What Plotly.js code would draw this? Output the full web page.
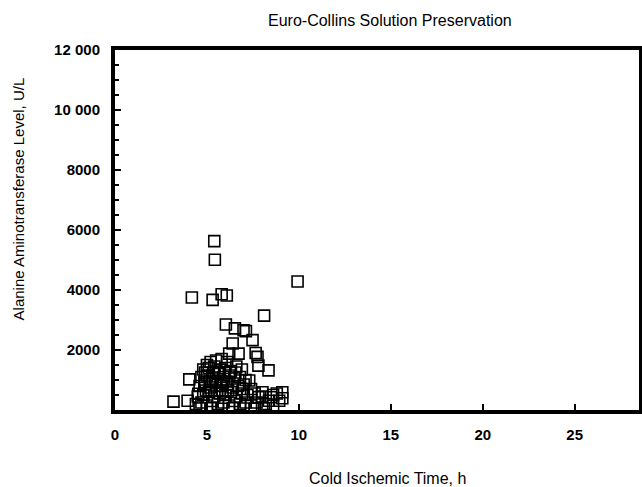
<!DOCTYPE html>
<html><head><meta charset="utf-8">
<script src="https://cdn.plot.ly/plotly-3.0.1.min.js"></script>
<style>html,body{margin:0;padding:0;background:#fff}</style>
</head><body>
<div id="chart" style="width:642px;height:487px"></div>
<script>
const chartTitle = "Euro-Collins Solution Preservation";
const xTitle = "Cold Ischemic Time, h";
const yTitle = "Alanine Aminotransferase Level, U/L";
const xTickVals = [0, 5, 10, 15, 20, 25];
const yTickVals = [2000, 4000, 6000, 8000, 10000, 12000];
const yTickText = ["2000", "4000", "6000", "8000", "10 000", "12 000"];

// Cold ischemic time (h)
const coldTime = [
  5.40, 5.43, 9.93, 4.18, 5.31, 5.80, 6.08, 8.11, 6.03, 6.52, 6.99, 7.12, 7.48, 6.40,
  7.75, 7.65, 6.72, 6.21, 8.35, 7.80, 7.30, 8.02, 8.48, 8.37, 9.10, 9.10, 8.93, 7.80, 6.94,
  4.04, 3.18, 3.95, 4.86, 4.53,
  5.2, 5.5, 5.8, 6.1, 5.0,
  4.8, 5.1, 5.4, 5.7, 6.0, 6.3, 6.6, 6.9,
  4.7, 5.0, 5.3, 5.6, 5.9, 6.2, 6.5, 6.8, 7.1,
  4.6, 4.9, 5.2, 5.5, 5.8, 6.1, 6.4, 6.7, 7.0, 7.4,
  4.5, 4.8, 5.1, 5.4, 5.7, 6.0, 6.3, 6.6, 6.9, 7.2, 7.6, 8.0, 8.6, 8.8,
  4.4, 4.7, 5.0, 5.3, 5.6, 5.9, 6.2, 6.5, 6.8, 7.1, 7.4, 7.7, 8.2, 8.6,
  4.6, 5.2, 5.8, 6.4, 7.0, 7.6, 8.1,
  4.9, 5.35, 5.65, 5.95, 6.25, 6.55, 5.15, 5.45, 5.75, 6.05, 4.95, 5.25, 5.55, 5.85, 6.15
];
// ALT level (U/L)
const altLevel = [
  5630, 5010, 4285, 3750, 3670, 3860, 3815, 3145, 2850, 2720, 2660, 2630, 2330, 2215,
  1770, 1900, 1880, 1880, 1320, 1480, 985, 590, 425, 310, 590, 390, 310, 430, 700,
  1020, 280, 310, 925, 540,
  1600, 1650, 1700, 1600, 1500,
  1350, 1400, 1450, 1350, 1400, 1300, 1450, 1350,
  1100, 1150, 1050, 1200, 1100, 1150, 1050, 1100, 1000,
  800, 850, 750, 900, 800, 850, 750, 800, 850, 700,
  450, 500, 600, 450, 550, 500, 600, 450, 550, 500, 550, 450, 500, 550,
  200, 250, 150, 300, 200, 250, 150, 300, 200, 250, 150, 250, 200, 150,
  50, 60, 40, 60, 50, 40, 60,
  1250, 1250, 1250, 1250, 1250, 1250, 950, 950, 950, 950, 650, 650, 650, 650, 650
];

const font = {family: "Liberation Sans, Arial, sans-serif", color: "#000"};

const trace = {
  x: coldTime, y: altLevel, type: "scatter", mode: "markers",
  marker: {symbol: "square-open", size: 11, color: "#000", line: {width: 1.6, color: "#000"}},
  hoverinfo: "skip"
};

const layout = {
  width: 642, height: 487,
  margin: {l: 115, r: 3, t: 50, b: 77},
  paper_bgcolor: "#fff", plot_bgcolor: "#fff",
  showlegend: false,
  font: font,
  xaxis: {
    range: [0, 28.5], showgrid: false, zeroline: false,
    showline: true, linewidth: 4, linecolor: "#000", mirror: true,
    tickvals: xTickVals, ticks: "inside", ticklen: 6, tickwidth: 2, tickcolor: "#000",
    ticklabelstandoff: 8,
    tickfont: {family: font.family, size: 15, color: "#000", weight: "bold"}
  },
  yaxis: {
    range: [0, 12000], showgrid: false, zeroline: false,
    showline: true, linewidth: 4, linecolor: "#000", mirror: true,
    tickvals: yTickVals, ticktext: yTickText, ticks: "inside", ticklen: 6, tickwidth: 2, tickcolor: "#000",
    minor: {dtick: 500, ticks: "inside", ticklen: 4, tickwidth: 2, tickcolor: "#000"},
    ticklabelstandoff: 8,
    tickfont: {family: font.family, size: 15, color: "#000", weight: "bold"}
  },
  annotations: [
    {text: chartTitle, xref: "paper", yref: "paper", x: 0.524, y: 1, yshift: 30, yanchor: "middle",
     showarrow: false, font: {family: font.family, size: 16, color: "#000"}},
    {text: xTitle, xref: "paper", yref: "paper", x: 0.52, y: 0, yshift: -68, yanchor: "middle",
     showarrow: false, font: {family: font.family, size: 16, color: "#000"}},
    {text: yTitle, xref: "paper", yref: "paper", x: 0, xshift: -97, y: 0.585, xanchor: "center", yanchor: "middle",
     textangle: -90, showarrow: false, font: {family: font.family, size: 15, color: "#000"}}
  ]
};

Plotly.newPlot("chart", [trace], layout, {staticPlot: true, displayModeBar: false});
</script>
</body></html>
